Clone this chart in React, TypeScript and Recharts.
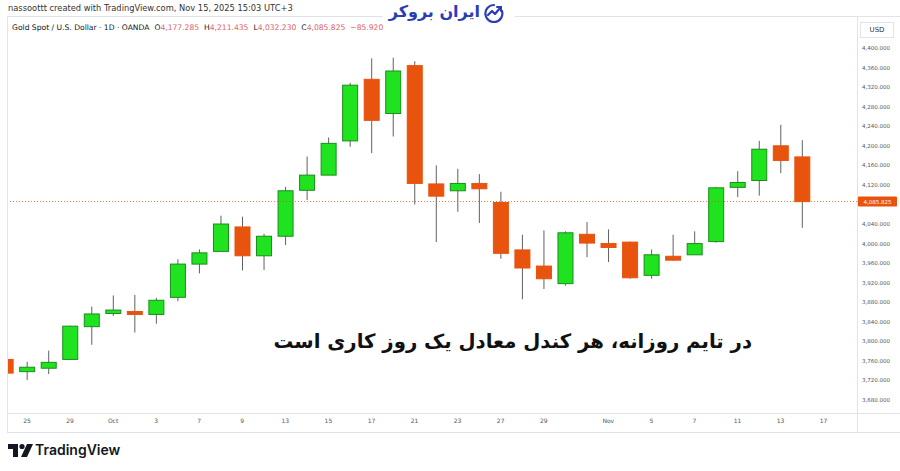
import React from 'react';
import { ComposedChart, Bar, XAxis, YAxis, ReferenceLine } from 'recharts';

// trading days shown (Sep 24 is only half visible on the left edge)
const dates = [
  'Sep 24', 'Sep 25', 'Sep 26', 'Sep 29', 'Sep 30', 'Oct 1', 'Oct 2', 'Oct 3', 'Oct 6', 'Oct 7',
  'Oct 8', 'Oct 9', 'Oct 10', 'Oct 13', 'Oct 14', 'Oct 15', 'Oct 16', 'Oct 17', 'Oct 20', 'Oct 21',
  'Oct 22', 'Oct 23', 'Oct 24', 'Oct 27', 'Oct 28', 'Oct 29', 'Oct 30', 'Oct 31', 'Nov 3', 'Nov 4',
  'Nov 5', 'Nov 6', 'Nov 7', 'Nov 10', 'Nov 11', 'Nov 12', 'Nov 13', 'Nov 14',
];
const opens = [
  3763, 3738, 3745, 3763, 3830, 3857, 3861, 3855, 3890, 3958,
  3984, 4034, 3975, 4015, 4109, 4140, 4210, 4336, 4266, 4364,
  4122, 4108, 4123, 4084, 3987, 3954, 3918, 4019, 4000, 4003,
  3935, 3974, 3977, 4004, 4115, 4129, 4200, 4177.285,
];
const highs = [
  3778, 3758, 3781, 3832, 3871, 3894, 3895, 3889, 3968, 3988,
  4057, 4055, 4020, 4116, 4178, 4217, 4329, 4379, 4380, 4373,
  4160, 4153, 4142, 4106, 4018, 4027, 4025, 4044, 4029, 4004,
  3988, 4018, 4025, 4116, 4148, 4210, 4243, 4211.435,
];
const lows = [
  3728, 3721, 3733, 3762, 3793, 3852, 3818, 3836, 3882, 3939,
  3984, 3945, 3946, 3997, 4089, 4140, 4198, 4185, 4219, 4080,
  4003, 4065, 4042, 3969, 3886, 3907, 3914, 3972, 3962, 3928,
  3928, 3965, 3977, 4002, 4095, 4098, 4144, 4032.23,
];
const closes = [
  3735, 3747, 3757, 3831, 3856, 3864, 3855, 3884, 3958, 3981,
  4040, 3975, 4015, 4108, 4140, 4205, 4324, 4252, 4353, 4123,
  4097, 4123, 4112, 3980, 3950, 3928, 4022, 4001, 3992, 3930,
  3977, 3966, 4000, 4114, 4125, 4193, 4170, 4085.825,
];

// x-axis labels: index into the day list (38 = Nov 17, not traded yet)
const xTickIdx = [1, 3, 5, 7, 9, 11, 13, 15, 17, 19, 21, 23, 25, 28, 30, 32, 34, 36, 38];
const xTickText = ['25', '29', 'Oct', '3', '7', '9', '13', '15', '17', '21', '23', '27', '29', 'Nov', '5', '7', '11', '13', '17'];

// 4,080 is hidden behind the last-price tag
const priceTicks = [
  3680, 3720, 3760, 3800, 3840, 3880, 3920, 3960, 4000, 4040,
  4120, 4160, 4200, 4240, 4280, 4320, 4360, 4400,
];
const lastPrice = 4085.825;

const UP = '#1fe31f';
const UP_EDGE = '#1c8c1c';
const DOWN = '#e8530e';
const WICK = '#606060';
const RED_TXT = '#e0616c';

const data = dates.map((d, i) => ({
  i,
  date: d,
  open: opens[i],
  high: highs[i],
  low: lows[i],
  close: closes[i],
}));

const fmt = (v: number) =>
  v.toLocaleString('en-US', { minimumFractionDigits: 3, maximumFractionDigits: 3 });

const Candle = (props: any) => {
  const { x, y, width, height, payload } = props;
  if (x == null || payload == null) return null;
  const top = Math.min(y, y + height);
  const bottom = Math.max(y, y + height);
  const { open, high, low, close } = payload;
  const k = (bottom - top) / (high - low);
  const py = (v: number) => top + (high - v) * k;
  const cx = x + width / 2;
  const up = close >= open;
  const bTop = py(Math.max(open, close));
  const bH = Math.max(1.5, Math.abs(py(open) - py(close)));
  return (
    <g>
      <line x1={cx} x2={cx} y1={top} y2={bottom} stroke={WICK} strokeWidth={1} />
      <rect
        x={x + 0.5}
        y={bTop}
        width={width - 1}
        height={bH}
        fill={up ? UP : DOWN}
        stroke={up ? UP_EDGE : DOWN}
        strokeWidth={1}
      />
    </g>
  );
};

const PriceTag = (props: any) => {
  const vb = props.viewBox;
  if (!vb) return null;
  const x0 = vb.x + vb.width;
  return (
    <g>
      <rect x={x0 + 1} y={vb.y - 5} width={39} height={10} fill={DOWN} rx={1} />
      <text x={x0 + 20.5} y={vb.y + 2} textAnchor="middle" fontSize={5.5} fill="#fff" fontFamily="DejaVu Sans">
        {fmt(lastPrice)}
      </text>
    </g>
  );
};

const line = (s: React.CSSProperties): React.CSSProperties => ({ position: 'absolute', background: '#e0e3eb', ...s });

export default function App() {
  return (
    <div style={{ position: 'absolute', left: 0, top: 0, width: 900, height: 471, background: '#fff', overflow: 'hidden' }}>
      <div style={{ position: 'absolute', left: 8, top: 3, fontSize: 8.3, color: '#333', fontFamily: 'DejaVu Sans', whiteSpace: 'nowrap' }}>
        nassoottt created with TradingView.com, Nov 15, 2025 15:03 UTC+3
      </div>

      <ComposedChart
        width={900}
        height={471}
        data={data}
        margin={{ top: 16, right: 0, left: 8, bottom: 39 }}
        style={{ position: 'absolute', left: 0, top: 0 }}
      >
        <XAxis
          dataKey="i"
          type="number"
          scale="linear"
          domain={[0.12, 39.55]}
          allowDataOverflow
          ticks={xTickIdx}
          interval={0}
          tickFormatter={(v: number) => xTickText[xTickIdx.indexOf(v)] ?? ''}
          height={19}
          axisLine={false}
          tickLine={false}
          tickSize={0}
          tickMargin={6}
          tick={{ fontSize: 6, fill: '#555', fontFamily: 'DejaVu Sans' }}
        />
        <YAxis
          orientation="right"
          width={43}
          domain={[3653.4, 4465.5]}
          allowDataOverflow
          ticks={priceTicks}
          interval={0}
          tickFormatter={fmt}
          axisLine={false}
          tickLine={false}
          tickSize={0}
          tickMargin={5}
          tick={{ fontSize: 5.5, fill: '#555', fontFamily: 'DejaVu Sans' }}
        />
        <ReferenceLine
          y={lastPrice}
          stroke={DOWN}
          strokeOpacity={0.75}
          strokeDasharray="1 2"
          strokeWidth={1}
          shapeRendering="crispEdges"
          label={<PriceTag />}
        />
        <Bar dataKey={(d: any) => [d.low, d.high]} barSize={16} shape={<Candle />} isAnimationActive={false} />
      </ComposedChart>

      {/* frame */}
      <div style={line({ left: 8, top: 16, width: 892, height: 1 })} />
      <div style={line({ left: 8, top: 413, width: 892, height: 1 })} />
      <div style={line({ left: 8, top: 432, width: 892, height: 1 })} />
      <div style={line({ left: 7, top: 16, width: 1, height: 417 })} />
      <div style={line({ left: 857, top: 16, width: 1, height: 417 })} />

      <div style={{ position: 'absolute', left: 860, top: 22, width: 34, height: 16, border: '1px solid #e0e3eb', boxSizing: 'border-box', fontSize: 7, color: '#333', fontFamily: 'DejaVu Sans', lineHeight: '14px', textAlign: 'center' }}>
        USD
      </div>

      <div style={{ position: 'absolute', left: 12, top: 23, fontSize: 7.6, color: '#131722', fontFamily: 'DejaVu Sans', whiteSpace: 'nowrap', wordSpacing: 0 }}>
        Gold Spot / U.S. Dollar · 1D · OANDA
        <span style={{ marginLeft: 5 }}>O<span style={{ color: RED_TXT }}>4,177.285</span></span>
        <span style={{ marginLeft: 5 }}>H<span style={{ color: RED_TXT }}>4,211.435</span></span>
        <span style={{ marginLeft: 5 }}>L<span style={{ color: RED_TXT }}>4,032.230</span></span>
        <span style={{ marginLeft: 5 }}>C<span style={{ color: RED_TXT }}>4,085.825</span></span>
        <span style={{ marginLeft: 5, color: RED_TXT }}>−85.920 (−2.06%)</span>
      </div>

      {/* broker logo */}
      <div style={{ position: 'absolute', left: 383, top: 0, width: 132, height: 36, background: '#fff' }} />
      <div style={{ position: 'absolute', right: 420, top: 1, fontSize: 16, fontWeight: 'bold', color: '#2b3db5', fontFamily: 'DejaVu Sans', direction: 'rtl', whiteSpace: 'nowrap', lineHeight: '22px' }}>
        ایران بروکر
      </div>
      <svg style={{ position: 'absolute', left: 483, top: 3 }} width={22} height={20}>
        <path d="M11 2 A8.5 8.5 0 1 0 19 8" fill="none" stroke="#2b3db5" strokeWidth={2.2} strokeLinecap="round" />
        <path d="M5 12 L9 8 L12 11 L17 5" fill="none" stroke="#2b3db5" strokeWidth={2.2} strokeLinecap="round" strokeLinejoin="round" />
        <path d="M14 4 L18 4 L18 8" fill="none" stroke="#2b3db5" strokeWidth={2} strokeLinecap="round" />
      </svg>

      <div style={{ position: 'absolute', right: 148, top: 330, fontSize: 19.7, fontWeight: 'bold', color: '#111', fontFamily: 'DejaVu Sans', direction: 'rtl', whiteSpace: 'nowrap' }}>
        در تایم روزانه، هر کندل معادل یک روز کاری است
      </div>

      {/* TradingView mark */}
      <svg style={{ position: 'absolute', left: 8, top: 443 }} width={26} height={16}>
        <path d="M0 1 H10 V14 H5 V6 H0 Z" fill="#131722" />
        <circle cx={14} cy={3.5} r={2.6} fill="#131722" />
        <path d="M19 1 H25 L19 14 H13 Z" fill="#131722" />
      </svg>
      <div style={{ position: 'absolute', left: 35, top: 441, fontSize: 14, fontWeight: 600, color: '#131722', fontFamily: 'Inter', whiteSpace: 'nowrap' }}>
        TradingView
      </div>
    </div>
  );
}
